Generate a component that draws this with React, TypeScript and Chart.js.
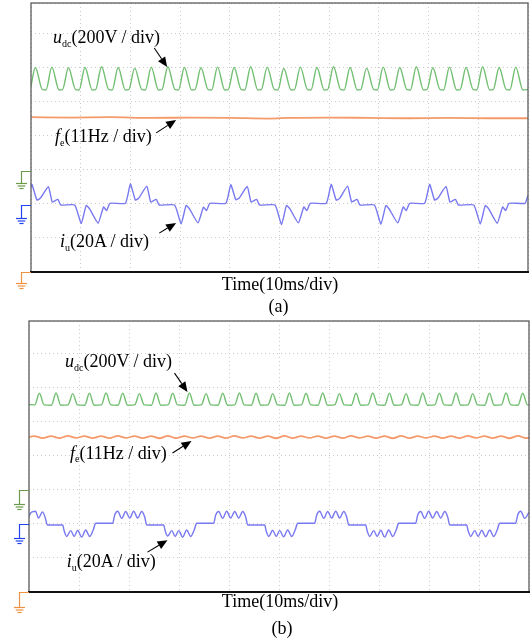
import React, { useEffect, useRef } from "react";
import { Chart, registerables } from "chart.js";

Chart.register(...registerables);

// ---------- data (time in ms, amplitude in screen divisions from the frame bottom) ----------
const TIME_MIN = 0;
const TIME_MAX = 100; // 10 div x 10 ms
const X_STEP = 10;
const Y_STEP = 1;
const Y_MAX_A = 7.89;
const Y_MAX_B = 7.95;

// panel (a) u_dc
const UDC_A: number[][] = [
  [0, 5.45],
  [0.86, 6.0], [2.31, 5.35], [3.01, 5.34],
  [4.19, 6.01], [5.64, 5.34], [6.34, 5.35],
  [7.53, 5.99], [8.98, 5.35], [9.68, 5.34],
  [10.86, 6.0], [12.31, 5.34], [13.01, 5.35],
  [14.19, 6.02], [15.64, 5.35], [16.34, 5.34],
  [17.53, 6.0], [18.98, 5.34], [19.68, 5.35],
  [20.86, 5.98], [22.31, 5.35], [23.01, 5.34],
  [24.19, 6.01], [25.64, 5.34], [26.34, 5.35],
  [27.53, 6.02], [28.98, 5.35], [29.68, 5.34],
  [30.86, 6.0], [32.31, 5.34], [33.01, 5.35],
  [34.19, 5.99], [35.64, 5.35], [36.34, 5.34],
  [37.53, 6.01], [38.98, 5.34], [39.68, 5.35],
  [40.86, 6.0], [42.31, 5.35], [43.01, 5.34],
  [44.19, 6.02], [45.64, 5.34], [46.34, 5.35],
  [47.53, 6.01], [48.98, 5.35], [49.68, 5.34],
  [50.86, 5.97], [52.31, 5.34], [53.01, 5.35],
  [54.19, 6.01], [55.64, 5.35], [56.34, 5.34],
  [57.53, 6.0], [58.98, 5.34], [59.68, 5.35],
  [60.86, 6.02], [62.31, 5.35], [63.01, 5.34],
  [64.19, 6.0], [65.64, 5.34], [66.34, 5.35],
  [67.53, 5.98], [68.98, 5.35], [69.68, 5.34],
  [70.86, 6.01], [72.31, 5.34], [73.01, 5.35],
  [74.19, 6.0], [75.64, 5.35], [76.34, 5.34],
  [77.53, 6.02], [78.98, 5.34], [79.68, 5.35],
  [80.86, 5.99], [82.31, 5.35], [83.01, 5.34],
  [84.19, 6.01], [85.64, 5.34], [86.34, 5.35],
  [87.53, 6.0], [88.98, 5.35], [89.68, 5.34],
  [90.86, 6.02], [92.31, 5.34], [93.01, 5.35],
  [94.19, 6.0], [95.64, 5.35], [96.34, 5.34],
  [97.53, 6.01], [98.98, 5.34], [99.68, 5.35],
  [100, 5.36],
];

// panel (a) f_e
const FE_A: number[][] = [
  [0, 4.54], [8, 4.53], [16, 4.54], [24, 4.52], [32, 4.53], [40, 4.52], [48, 4.5],
  [52, 4.52], [60, 4.53], [68, 4.52], [76, 4.51], [84, 4.52], [92, 4.51], [100, 4.51],
];

// panel (a) i_u
const IU_A: number[][] = [
  [0, 2.5],
  [0.2, 2.57], [1.2, 2.11], [1.9, 2.17], [3.5, 2.5], [4.3, 2.05], [5.4, 2.13], [6.0, 1.965],
  [8.8, 1.965], [10.1, 1.42], [11.1, 1.95], [11.8, 1.85], [13.5, 1.43], [14.6, 1.91], [15.2, 1.8], [15.9, 2.015],
  [19.0, 2.015], [20.0, 2.58], [21.0, 2.11], [21.7, 2.17], [23.3, 2.52], [24.1, 2.05], [25.2, 2.13], [25.8, 1.965],
  [28.9, 1.965], [30.2, 1.41], [31.2, 1.95], [31.9, 1.85], [33.6, 1.44], [34.7, 1.9], [35.3, 1.8], [36.0, 2.015],
  [39.2, 2.015], [40.2, 2.56], [41.2, 2.12], [41.9, 2.17], [43.5, 2.51], [44.3, 2.05], [45.4, 2.13], [46.0, 1.965],
  [49.1, 1.965], [50.4, 1.39], [51.4, 1.95], [52.1, 1.85], [53.8, 1.44], [54.9, 1.91], [55.5, 1.8], [56.2, 2.015],
  [59.4, 2.015], [60.4, 2.57], [61.4, 2.11], [62.1, 2.16], [63.7, 2.52], [64.5, 2.06], [65.6, 2.13], [66.2, 1.965],
  [69.1, 1.965], [70.4, 1.4], [71.4, 1.95], [72.1, 1.84], [73.8, 1.44], [74.9, 1.91], [75.5, 1.8], [76.2, 2.015],
  [79.2, 2.015], [80.2, 2.57], [81.2, 2.11], [81.9, 2.17], [83.5, 2.51], [84.3, 2.05], [85.4, 2.13], [86.0, 1.965],
  [89.1, 1.965], [90.4, 1.41], [91.4, 1.95], [92.1, 1.85], [93.8, 1.43], [94.9, 1.91], [95.5, 1.8], [96.2, 2.015],
  [99.4, 2.015], [100, 2.25],
];

// panel (b) u_dc
const UDC_B: number[][] = [
  [0, 5.5], [1.15, 5.49],
  [2.08, 5.83], [3.03, 5.49], [4.48, 5.48],
  [5.41, 5.84], [6.36, 5.48], [7.81, 5.49],
  [8.75, 5.82], [9.7, 5.49], [11.15, 5.48],
  [12.08, 5.83], [13.03, 5.48], [14.48, 5.49],
  [15.41, 5.84], [16.36, 5.49], [17.81, 5.48],
  [18.75, 5.83], [19.7, 5.48], [21.15, 5.49],
  [22.08, 5.82], [23.03, 5.49], [24.48, 5.48],
  [25.41, 5.84], [26.36, 5.48], [27.81, 5.49],
  [28.75, 5.83], [29.7, 5.49], [31.15, 5.48],
  [32.08, 5.84], [33.03, 5.48], [34.48, 5.49],
  [35.41, 5.82], [36.36, 5.49], [37.81, 5.48],
  [38.75, 5.83], [39.7, 5.48], [41.15, 5.49],
  [42.08, 5.84], [43.03, 5.49], [44.48, 5.48],
  [45.41, 5.83], [46.36, 5.48], [47.81, 5.49],
  [48.75, 5.82], [49.7, 5.49], [51.15, 5.48],
  [52.08, 5.84], [53.03, 5.48], [54.48, 5.49],
  [55.41, 5.83], [56.36, 5.49], [57.81, 5.48],
  [58.75, 5.84], [59.7, 5.48], [61.15, 5.49],
  [62.08, 5.82], [63.03, 5.49], [64.48, 5.48],
  [65.41, 5.83], [66.36, 5.48], [67.81, 5.49],
  [68.75, 5.84], [69.7, 5.49], [71.15, 5.48],
  [72.08, 5.83], [73.03, 5.48], [74.48, 5.49],
  [75.41, 5.82], [76.36, 5.49], [77.81, 5.48],
  [78.75, 5.84], [79.7, 5.48], [81.15, 5.49],
  [82.08, 5.83], [83.03, 5.49], [84.48, 5.48],
  [85.41, 5.84], [86.36, 5.48], [87.81, 5.49],
  [88.75, 5.82], [89.7, 5.49], [91.15, 5.48],
  [92.08, 5.83], [93.03, 5.48], [94.48, 5.49],
  [95.41, 5.84], [96.36, 5.49], [97.81, 5.48],
  [98.75, 5.83], [99.7, 5.49], [100, 5.49],
];

// panel (b) f_e
const FE_B: number[][] = [
  [0, 4.55],
  [1.08, 4.575], [2.75, 4.515], [4.41, 4.575], [6.08, 4.515], [7.75, 4.58], [9.41, 4.52],
  [11.08, 4.575], [12.75, 4.515], [14.41, 4.57], [16.08, 4.515], [17.75, 4.58], [19.41, 4.52],
  [21.08, 4.575], [22.75, 4.515], [24.41, 4.575], [26.08, 4.51], [27.75, 4.58], [29.41, 4.515],
  [31.08, 4.575], [32.75, 4.52], [34.41, 4.575], [36.08, 4.515], [37.75, 4.57], [39.41, 4.515],
  [41.08, 4.58], [42.75, 4.52], [44.41, 4.575], [46.08, 4.515], [47.75, 4.575], [49.41, 4.51],
  [51.08, 4.58], [52.75, 4.515], [54.41, 4.575], [56.08, 4.52], [57.75, 4.575], [59.41, 4.515],
  [61.08, 4.57], [62.75, 4.515], [64.41, 4.58], [66.08, 4.52], [67.75, 4.575], [69.41, 4.515],
  [71.08, 4.575], [72.75, 4.51], [74.41, 4.58], [76.08, 4.515], [77.75, 4.575], [79.41, 4.52],
  [81.08, 4.575], [82.75, 4.515], [84.41, 4.57], [86.08, 4.515], [87.75, 4.58], [89.41, 4.52],
  [91.08, 4.575], [92.75, 4.515], [94.41, 4.575], [96.08, 4.51], [97.75, 4.58], [99.41, 4.515],
  [100, 4.52],
];

// panel (b) i_u
const IU_B: number[][] = [
  [0, 2.22], [0.4, 2.33], [1.3, 2.37], [1.9, 2.17], [2.7, 2.35], [3.2, 2.2], [3.7, 1.965],
  [6.74, 1.965], [7.04, 1.79], [7.54, 1.63], [8.34, 1.8], [9.04, 1.63], [9.74, 1.81], [10.54, 1.61], [11.34, 1.82], [12.14, 1.63], [12.84, 1.82], [13.34, 2.015],
  [16.74, 2.015], [17.14, 2.26], [17.74, 2.37], [18.54, 2.16], [19.34, 2.36], [20.14, 2.17], [20.94, 2.37], [21.74, 2.17], [22.54, 2.36], [23.14, 2.2], [23.54, 1.965],
  [26.94, 1.965], [27.24, 1.79], [27.74, 1.64], [28.54, 1.8], [29.24, 1.63], [29.94, 1.8], [30.74, 1.61], [31.54, 1.82], [32.34, 1.63], [33.04, 1.82], [33.54, 2.015],
  [36.94, 2.015], [37.34, 2.26], [37.94, 2.36], [38.74, 2.16], [39.54, 2.37], [40.34, 2.17], [41.14, 2.36], [41.94, 2.17], [42.74, 2.36], [43.34, 2.2], [43.74, 1.965],
  [47.14, 1.965], [47.44, 1.79], [47.94, 1.63], [48.74, 1.81], [49.44, 1.63], [50.14, 1.8], [50.94, 1.62], [51.74, 1.82], [52.54, 1.63], [53.24, 1.82], [53.74, 2.015],
  [57.14, 2.015], [57.54, 2.26], [58.14, 2.37], [58.94, 2.16], [59.74, 2.36], [60.54, 2.17], [61.34, 2.37], [62.14, 2.17], [62.94, 2.36], [63.54, 2.2], [63.94, 1.965],
  [67.34, 1.965], [67.64, 1.79], [68.14, 1.63], [68.94, 1.8], [69.64, 1.63], [70.34, 1.81], [71.14, 1.61], [71.94, 1.82], [72.74, 1.63], [73.44, 1.82], [73.94, 2.015],
  [77.34, 2.015], [77.74, 2.26], [78.34, 2.36], [79.14, 2.16], [79.94, 2.37], [80.74, 2.17], [81.54, 2.36], [82.34, 2.17], [83.14, 2.36], [83.74, 2.2], [84.14, 1.965],
  [87.54, 1.965], [87.84, 1.79], [88.34, 1.63], [89.14, 1.8], [89.84, 1.63], [90.54, 1.81], [91.34, 1.62], [92.14, 1.82], [92.94, 1.63], [93.64, 1.82], [94.14, 2.015],
  [97.34, 2.015], [97.74, 2.26], [98.34, 2.37], [99.14, 2.16], [100, 2.34],
];

// channel ground reference levels (div)
const GROUNDS_A = [2.97, 1.965, 0];
const GROUNDS_B = [2.99, 1.99, 0];

// annotation arrows [tailTime, tailDiv, headTime, headDiv]
const ARROWS_A: number[][] = [
  [24.8, 6.57, 27.4, 6.01],
  [25.2, 4.08, 29.2, 4.46],
  [25.8, 1.14, 29.2, 1.44],
];
const ARROWS_B: number[][] = [
  [29.1, 6.42, 31.7, 5.87],
  [28.7, 4.08, 32.5, 4.43],
  [23.7, 1.17, 27.7, 1.52],
];

// ---------- styles ----------
const GREEN = "#72bf72";
const ORANGE = "#f59a6a";
const BLUE = "#7878f0";
const GROUND_COLORS = ["#6c9a4c", "#2244ee", "#ef9340"];
const GRID = "#cbcbcb";
const SERIF = '"Liberation Serif", "Times New Roman", serif';

const scopeDeco = {
  id: "scopeDeco",
  afterDraw(chart: any, _args: any, opts: any) {
    const { ctx, chartArea: a, scales } = chart;
    const x = scales.x;
    const y = scales.y;
    ctx.save();
    // frame
    ctx.strokeStyle = "#5c5c5c";
    ctx.lineWidth = 1.3;
    ctx.strokeRect(a.left, a.top, a.right - a.left, a.bottom - a.top);
    ctx.strokeStyle = "#111";
    ctx.lineWidth = 1.8;
    ctx.beginPath();
    ctx.moveTo(a.left - 1, a.bottom);
    ctx.lineTo(a.right + 1, a.bottom);
    ctx.stroke();

    // ground markers
    (opts.grounds as number[]).forEach((lvl, i) => {
      const py = Math.round(y.getPixelForValue(lvl)) + 0.5;
      const gx = Math.round(a.left - opts.groundOffset) + 0.5;
      const drop = opts.drops[i];
      ctx.strokeStyle = GROUND_COLORS[i];
      ctx.lineWidth = 1.2;
      ctx.beginPath();
      ctx.moveTo(a.left, py);
      ctx.lineTo(gx, py);
      ctx.lineTo(gx, py + drop);
      ctx.stroke();
      const bars = [
        [5.5, 0],
        [3.8, 2.5],
        [2.1, 5],
      ];
      bars.forEach(([hw, dy]) => {
        ctx.beginPath();
        ctx.moveTo(gx - hw, py + drop + dy);
        ctx.lineTo(gx + hw, py + drop + dy);
        ctx.stroke();
      });
    });

    // arrows
    ctx.strokeStyle = "#000";
    ctx.fillStyle = "#000";
    ctx.lineWidth = 1.1;
    (opts.arrows as number[][]).forEach(([t1, v1, t2, v2]) => {
      const x1 = x.getPixelForValue(t1);
      const y1 = y.getPixelForValue(v1);
      const x2 = x.getPixelForValue(t2);
      const y2 = y.getPixelForValue(v2);
      const ang = Math.atan2(y2 - y1, x2 - x1);
      const len = 10;
      const hw = 4.3;
      const bx = x2 - len * Math.cos(ang);
      const by = y2 - len * Math.sin(ang);
      ctx.beginPath();
      ctx.moveTo(x1, y1);
      ctx.lineTo(bx, by);
      ctx.stroke();
      ctx.beginPath();
      ctx.moveTo(x2, y2);
      ctx.lineTo(bx + hw * Math.sin(ang), by - hw * Math.cos(ang));
      ctx.lineTo(bx - hw * Math.sin(ang), by + hw * Math.cos(ang));
      ctx.closePath();
      ctx.fill();
    });
    ctx.restore();
  },
};

function toXY(rows: number[][]) {
  return rows.map(([t, v]) => ({ x: t, y: v }));
}

function makeConfig(p: {
  udc: number[][];
  fe: number[][];
  iu: number[][];
  yMax: number;
  padding: { left: number; right: number; top: number; bottom: number };
  grounds: number[];
  drops: number[];
  groundOffset: number;
  arrows: number[][];
  iuTension: number;
  iuMono: boolean;
}): any {
  const axisCommon = {
    type: "linear",
    grid: { color: GRID, lineWidth: 1, drawTicks: false },
    border: { display: false, dash: [1, 3] },
  };
  return {
    type: "line",
    data: {
      datasets: [
        {
          data: toXY(p.udc),
          borderColor: GREEN,
          borderWidth: 1.4,
          pointRadius: 0,
          cubicInterpolationMode: "monotone",
        },
        {
          data: toXY(p.fe),
          borderColor: ORANGE,
          borderWidth: 1.8,
          pointRadius: 0,
          cubicInterpolationMode: "monotone",
        },
        {
          data: toXY(p.iu),
          borderColor: BLUE,
          borderWidth: 1.4,
          pointRadius: 0,
          tension: p.iuTension,
          cubicInterpolationMode: p.iuMono ? "monotone" : "default",
        },
      ],
    },
    options: {
      animation: false,
      responsive: false,
      events: [],
      layout: { padding: p.padding },
      plugins: {
        legend: { display: false },
        tooltip: { enabled: false },
        scopeDeco: {
          grounds: p.grounds,
          drops: p.drops,
          groundOffset: p.groundOffset,
          arrows: p.arrows,
        },
      },
      scales: {
        x: { ...axisCommon, min: TIME_MIN, max: TIME_MAX, ticks: { display: false, stepSize: X_STEP } },
        y: { ...axisCommon, min: 0, max: p.yMax, ticks: { display: false, stepSize: Y_STEP } },
      },
    },
    plugins: [scopeDeco],
  };
}

function Label(props: { left?: number; center?: number; baseline: number; children: any }) {
  const size = 18;
  const style: any = {
    position: "absolute",
    top: props.baseline - 15,
    fontSize: size,
    lineHeight: `${size}px`,
    fontFamily: SERIF,
    whiteSpace: "nowrap",
    color: "#000",
  };
  if (props.center !== undefined) {
    style.left = props.center - 120;
    style.width = 240;
    style.textAlign = "center";
  } else {
    style.left = props.left;
  }
  return <div style={style}>{props.children}</div>;
}

const subStyle: any = { fontSize: 10, position: "relative", top: 3.5 };

export default function App() {
  const refA = useRef<HTMLCanvasElement | null>(null);
  const refB = useRef<HTMLCanvasElement | null>(null);

  useEffect(() => {
    const a = new Chart(
      refA.current as HTMLCanvasElement,
      makeConfig({
        udc: UDC_A,
        fe: FE_A,
        iu: IU_A,
        yMax: Y_MAX_A,
        padding: { left: 31, right: 3, top: 3, bottom: 48 },
        grounds: GROUNDS_A,
        drops: [12, 13, 11],
        groundOffset: 10.5,
        arrows: ARROWS_A,
        iuTension: 0.15,
        iuMono: false,
      })
    );
    const b = new Chart(
      refB.current as HTMLCanvasElement,
      makeConfig({
        udc: UDC_B,
        fe: FE_B,
        iu: IU_B,
        yMax: Y_MAX_B,
        padding: { left: 29, right: 2, top: 1, bottom: 51 },
        grounds: GROUNDS_B,
        drops: [14, 14, 15],
        groundOffset: 10,
        arrows: ARROWS_B,
        iuTension: 0,
        iuMono: true,
      })
    );
    return () => {
      a.destroy();
      b.destroy();
    };
  }, []);

  return (
    <div
      style={{
        position: "absolute",
        left: 0,
        top: 0,
        width: 531,
        height: 643,
        background: "#fff",
        overflow: "hidden",
      }}
    >
      <canvas
        ref={refA}
        width={531}
        height={320}
        style={{ position: "absolute", left: 0, top: 0, width: 531, height: 320 }}
      />
      <canvas
        ref={refB}
        width={531}
        height={323}
        style={{ position: "absolute", left: 0, top: 320, width: 531, height: 323 }}
      />

      {/* panel (a) labels */}
      <Label left={53} baseline={43}>
        <i>u</i>
        <span style={subStyle}>dc</span>(200V / div)
      </Label>
      <Label left={55} baseline={142}>
        <i>f</i>
        <span style={subStyle}>e</span>(11Hz / div)
      </Label>
      <Label left={60} baseline={247}>
        <i>i</i>
        <span style={subStyle}>u</span>(20A / div)
      </Label>
      <Label center={280} baseline={290}>Time(10ms/div)</Label>
      <Label center={278.5} baseline={312}>(a)</Label>

      {/* panel (b) labels */}
      <Label left={65} baseline={367}>
        <i>u</i>
        <span style={subStyle}>dc</span>(200V / div)
      </Label>
      <Label left={70} baseline={458.5}>
        <i>f</i>
        <span style={subStyle}>e</span>(11Hz / div)
      </Label>
      <Label left={66.7} baseline={567}>
        <i>i</i>
        <span style={subStyle}>u</span>(20A / div)
      </Label>
      <Label center={280} baseline={607}>Time(10ms/div)</Label>
      <Label center={282} baseline={634}>(b)</Label>
    </div>
  );
}
